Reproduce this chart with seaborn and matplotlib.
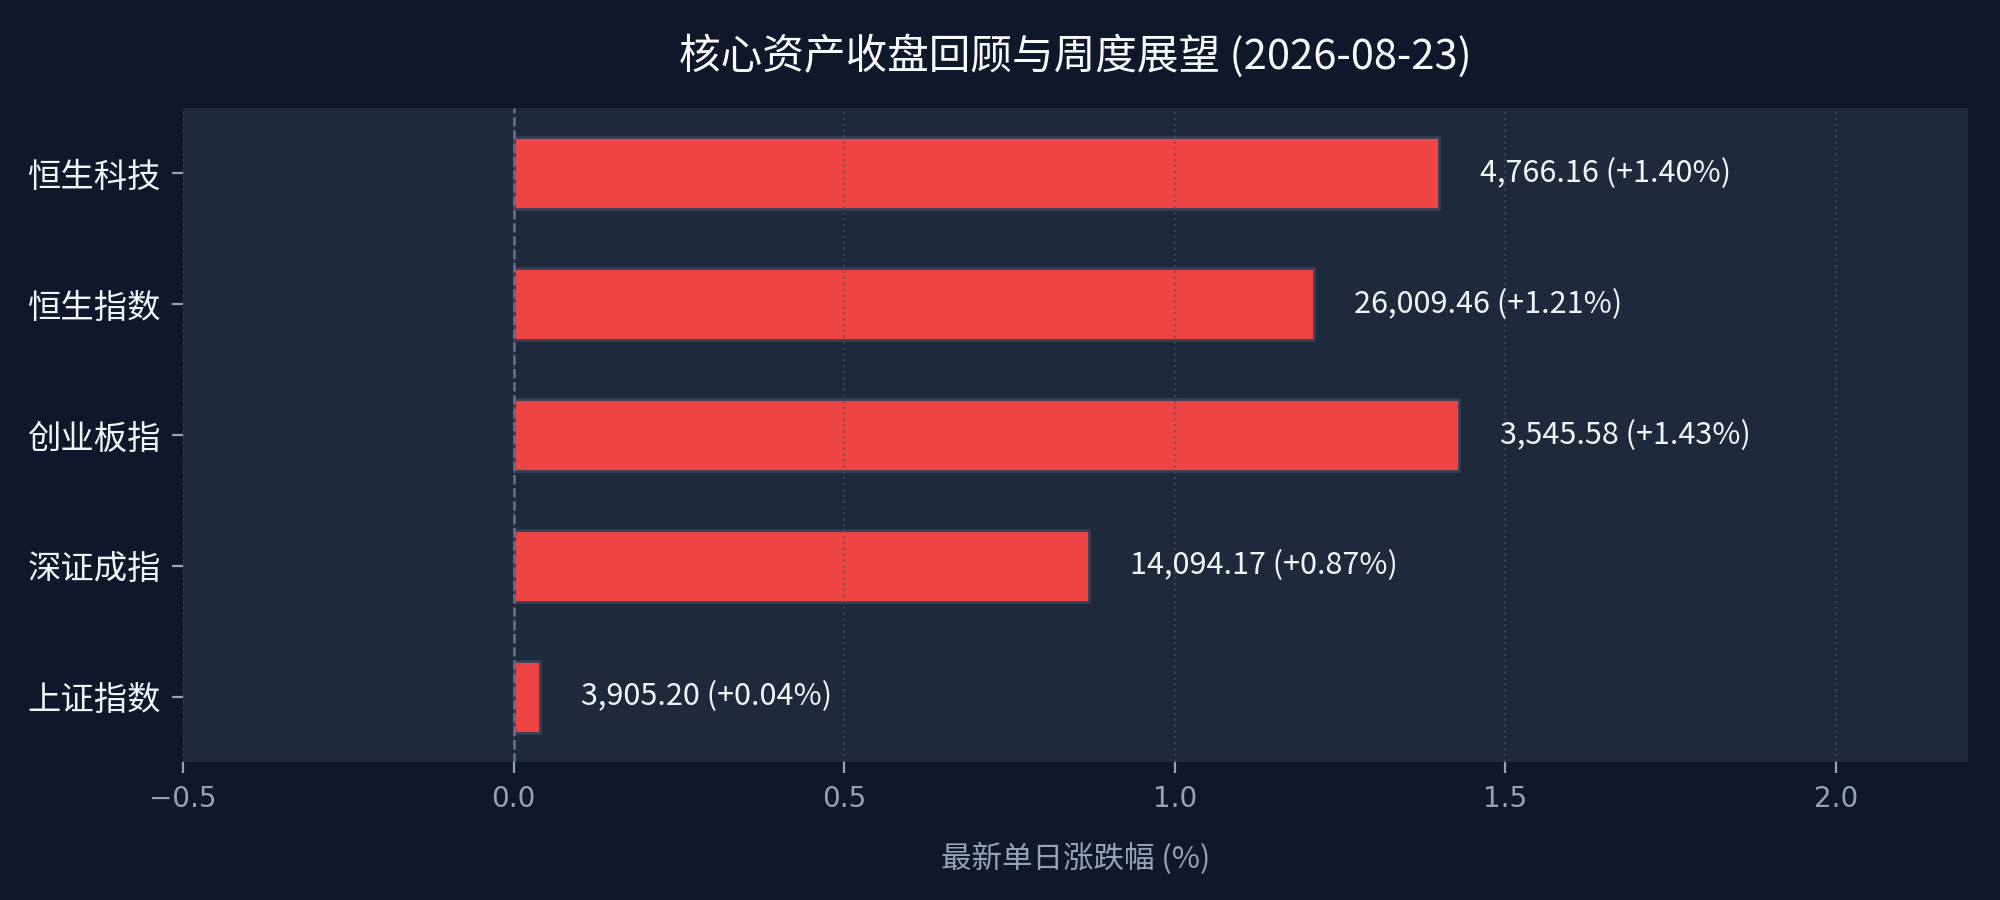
import pandas as pd
import numpy as np
import matplotlib
matplotlib.use("Agg")
import matplotlib.pyplot as plt
import seaborn as sns

# index names (top to bottom), latest close and daily change in %
names = ['恒生科技', '恒生指数', '创业板指', '深证成指', '上证指数']
closes = [4766.16, 26009.46, 3545.58, 14094.17, 3905.20]
changes = [1.40, 1.21, 1.43, 0.87, 0.04]
title_date = '2026-08-23'

df = pd.DataFrame({'name': names, 'close': closes, 'chg': changes})

sns.set_theme(style='dark')
plt.rcParams['font.family'] = ['Noto Sans CJK SC', 'DejaVu Sans']
plt.rcParams['axes.unicode_minus'] = True

bg = '#0f172a'
panel = '#1e293b'

fig, ax = plt.subplots(figsize=(10, 4.5), dpi=200)
fig.patch.set_facecolor(bg)
ax.set_facecolor(panel)

sns.barplot(data=df, y='name', x='chg', orient='h', order=names,
            color='#ef4444', saturation=1, width=0.55,
            edgecolor='#334155', linewidth=1.0, ax=ax)

# value labels to the right of each bar
for i, row in df.iterrows():
    sign = '+' if row['chg'] >= 0 else ''
    ax.text(row['chg'] + 0.062, i, f"{row['close']:,.2f} ({sign}{row['chg']:.2f}%)",
            va='center', ha='left', fontsize=11, color='#f1f5f9')

ax.axvline(0, color='#64748b', linestyle='--', linewidth=0.9, zorder=5)

ax.set_xlim(-0.5, 2.2)
ax.set_ylim(4.5, -0.5)
ax.set_xticks([-0.5, 0.0, 0.5, 1.0, 1.5, 2.0])
ax.set_axisbelow(False)
ax.grid(axis='x', color='#475569', linestyle=':', linewidth=0.8, alpha=0.6)
ax.grid(axis='y', visible=False)

for s in ax.spines.values():
    s.set_visible(False)

ax.tick_params(axis='x', colors='#94a3b8', labelsize=10, length=4, width=0.8,
               bottom=True, pad=4)
ax.tick_params(axis='y', colors='#94a3b8', labelcolor='#f1f5f9', labelsize=12,
               length=4, width=0.8, left=True, pad=4)
for lbl in ax.get_xticklabels():
    lbl.set_family('DejaVu Sans')

ax.set_ylabel('')
ax.set_xlabel('最新单日涨跌幅 (%)', color='#94a3b8', fontsize=11, labelpad=11)
ax.set_title(f'核心资产收盘回顾与周度展望 ({title_date})', color='#f8fafc',
             fontsize=15, pad=14)

plt.subplots_adjust(left=0.0915, right=0.984, top=0.88, bottom=0.153)
plt.savefig('out.png', dpi=200, facecolor=bg)
